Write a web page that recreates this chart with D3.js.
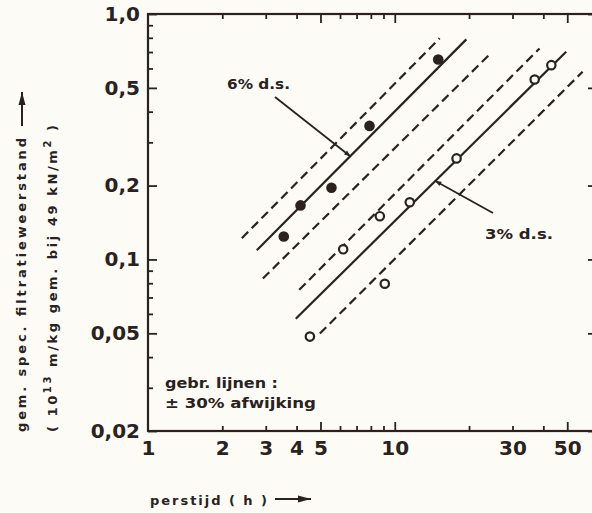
<!DOCTYPE html>
<html>
<head>
<meta charset="utf-8">
<script src="https://cdn.jsdelivr.net/npm/d3@7"></script>
<style>
  body { margin: 0; background: #fcfbf6; }
  svg { display: block; }
  text { font-family: "DejaVu Sans", sans-serif; font-weight: bold; fill: #2b221e; }
</style>
</head>
<body>
<svg id="chart"></svg>
<script>
// measured points, 6% d.s. (filled) and 3% d.s. (open)
const sixX = [3.55, 4.15, 5.54, 7.9, 15.0];
const sixY = [0.124, 0.166, 0.196, 0.35, 0.653];
const threeX = [4.53, 6.18, 8.7, 9.11, 11.5, 17.8, 36.9, 43.1];
const threeY = [0.0485, 0.110, 0.150, 0.0796, 0.171, 0.258, 0.541, 0.619];

// line end points (x, y)
const sixUpperX = [2.40, 15.2], sixUpperY = [0.122, 0.796];
const sixFitX = [2.76, 19.5], sixFitY = [0.109, 0.788];
const sixLowerX = [2.92, 24.6], sixLowerY = [0.0836, 0.695];
const threeUpperX = [4.10, 38.6], threeUpperY = [0.0752, 0.724];
const threeFitX = [3.97, 49.5], threeFitY = [0.0573, 0.702];
const threeLowerX = [4.97, 57.7], threeLowerY = [0.0499, 0.582];

// ticks
const xLabelTicks = [1, 2, 3, 4, 5, 10, 30, 50];
const xMajorTicks = [5, 10, 50];
const xMinorTicks = [2, 3, 4, 6, 7, 8, 9, 20, 30, 40];
const yLabelTicks = [1, 0.5, 0.2, 0.1, 0.05, 0.02];
const yLabels = ['1,0', '0,5', '0,2', '0,1', '0,05', '0,02'];
const yMinorTicks = [0.9, 0.8, 0.7, 0.6, 0.4, 0.3, 0.09, 0.08, 0.07, 0.06, 0.04, 0.03];

const W = 592, H = 513;
const ink = '#2b221e';
const bg = '#fcfbf6';
const m = { left: 148, right: 597, top: 14, bottom: 431 };

const svg = d3.select('#chart').attr('width', W).attr('height', H);
svg.append('rect').attr('width', W).attr('height', H).attr('fill', bg);

const x = d3.scaleLog().domain([1, 66]).range([m.left, m.right]);
const y = d3.scaleLog().domain([0.02, 1]).range([m.bottom, m.top]);

const allX = [1].concat(xMajorTicks, xMinorTicks);
const allY = yLabelTicks.concat(yMinorTicks);
const isMajorX = d => xMajorTicks.includes(d);
const isMajorY = d => yLabelTicks.includes(d);

function styleAxis(g, majorFn, attr, sign) {
  g.select('.domain').remove();
  g.selectAll('.tick line')
    .attr('stroke', ink)
    .attr('stroke-width', 1.8)
    .attr(attr, d => (d === 1 && attr === 'y2') ? 0 : sign * (majorFn(d) ? 9 : 5));
  g.selectAll('.tick text')
    .attr('font-size', 20)
    .attr('fill', ink)
    .attr('font-family', '"Liberation Sans", Arial, sans-serif')
    .attr('font-weight', 'bold');
}

// bottom
svg.append('g')
  .attr('transform', `translate(0,${m.bottom})`)
  .call(d3.axisBottom(x).tickValues(allX).tickSize(-5).tickPadding(10)
    .tickFormat(d => xLabelTicks.includes(d) ? d : ''))
  .call(g => styleAxis(g, isMajorX, 'y2', -1));

// top
svg.append('g')
  .attr('transform', `translate(0,${m.top})`)
  .call(d3.axisTop(x).tickValues(allX).tickSize(-5).tickFormat(''))
  .call(g => styleAxis(g, isMajorX, 'y2', 1));

// left
svg.append('g')
  .attr('transform', `translate(${m.left},0)`)
  .call(d3.axisLeft(y).tickValues(allY).tickSize(-5).tickPadding(8)
    .tickFormat(d => {
      const i = yLabelTicks.indexOf(d);
      return i >= 0 ? yLabels[i] : '';
    }))
  .call(g => styleAxis(g, isMajorY, 'x2', 1));

// right
svg.append('g')
  .attr('transform', `translate(${m.right},0)`)
  .call(d3.axisRight(y).tickValues(allY).tickSize(-5).tickFormat(''))
  .call(g => styleAxis(g, isMajorY, 'x2', -1));

// frame
svg.append('rect')
  .attr('x', m.left).attr('y', m.top)
  .attr('width', m.right - m.left).attr('height', m.bottom - m.top)
  .attr('fill', 'none').attr('stroke', ink).attr('stroke-width', 2.2);

// lines
const lines = [
  [sixUpperX, sixUpperY, true],
  [sixFitX, sixFitY, false],
  [sixLowerX, sixLowerY, true],
  [threeUpperX, threeUpperY, true],
  [threeFitX, threeFitY, false],
  [threeLowerX, threeLowerY, true]
];
const lineGen = d3.line().x(d => x(d[0])).y(d => y(d[1]));
svg.append('g').selectAll('path')
  .data(lines)
  .join('path')
  .attr('d', d => lineGen(d3.zip(d[0], d[1])))
  .attr('fill', 'none')
  .attr('stroke', ink)
  .attr('stroke-width', 2.2)
  .attr('stroke-dasharray', d => d[2] ? '9,5' : null);

// points
svg.append('g').selectAll('circle')
  .data(d3.zip(sixX, sixY))
  .join('circle')
  .attr('cx', d => x(d[0])).attr('cy', d => y(d[1]))
  .attr('r', 5.3).attr('fill', ink);

svg.append('g').selectAll('circle')
  .data(d3.zip(threeX, threeY))
  .join('circle')
  .attr('cx', d => x(d[0])).attr('cy', d => y(d[1]))
  .attr('r', 4.2).attr('fill', bg)
  .attr('stroke', ink).attr('stroke-width', 2.2);

// leader lines to the fitted lines
function onLine(xs, ys, xv) {
  const t = (Math.log(xv) - Math.log(xs[0])) / (Math.log(xs[1]) - Math.log(xs[0]));
  return [x(xv), y(Math.exp(Math.log(ys[0]) + t * (Math.log(ys[1]) - Math.log(ys[0]))))];
}
function leader(from, to) {
  svg.append('line')
    .attr('x1', from[0]).attr('y1', from[1])
    .attr('x2', to[0]).attr('y2', to[1])
    .attr('stroke', ink).attr('stroke-width', 1.8);
  const a = Math.atan2(to[1] - from[1], to[0] - from[0]);
  const s = 6;
  const p = [
    to,
    [to[0] - s * Math.cos(a) + 2.5 * Math.sin(a), to[1] - s * Math.sin(a) - 2.5 * Math.cos(a)],
    [to[0] - s * Math.cos(a) - 2.5 * Math.sin(a), to[1] - s * Math.sin(a) + 2.5 * Math.cos(a)]
  ];
  svg.append('path').attr('d', 'M' + p.join('L') + 'Z').attr('fill', ink);
}
leader([275, 97], onLine(sixFitX, sixFitY, 6.6));
leader([493, 213], onLine(threeFitX, threeFitY, 14.6));

svg.append('text').attr('x', 227).attr('y', 89)
  .attr('font-size', 14).attr('textLength', 63).attr('lengthAdjust', 'spacingAndGlyphs')
  .text('6% d.s.');
svg.append('text').attr('x', 485).attr('y', 239)
  .attr('font-size', 14).attr('textLength', 68).attr('lengthAdjust', 'spacingAndGlyphs')
  .text('3% d.s.');

// legend note
svg.append('text').attr('x', 165).attr('y', 388)
  .attr('font-size', 14).attr('textLength', 113).attr('lengthAdjust', 'spacingAndGlyphs')
  .text('gebr. lijnen :');
svg.append('text').attr('x', 165).attr('y', 408)
  .attr('font-size', 14).attr('textLength', 151).attr('lengthAdjust', 'spacingAndGlyphs')
  .text('± 30% afwijking');

// axis titles
function arrow(x1, y1, x2, y2) {
  svg.append('line')
    .attr('x1', x1).attr('y1', y1).attr('x2', x2).attr('y2', y2)
    .attr('stroke', ink).attr('stroke-width', 2);
  const a = Math.atan2(y2 - y1, x2 - x1);
  const s = 13;
  const p = [
    [x2, y2],
    [x2 - s * Math.cos(a) + 3.5 * Math.sin(a), y2 - s * Math.sin(a) - 3.5 * Math.cos(a)],
    [x2 - s * Math.cos(a) - 3.5 * Math.sin(a), y2 - s * Math.sin(a) + 3.5 * Math.cos(a)]
  ];
  svg.append('path').attr('d', 'M' + p.join('L') + 'Z').attr('fill', ink);
}

svg.append('text').attr('x', 150).attr('y', 505)
  .attr('font-size', 13).attr('textLength', 117).attr('lengthAdjust', 'spacing')
  .text('perstijd ( h )');
arrow(275, 499, 311, 499);

svg.append('text')
  .attr('transform', 'translate(26,432) rotate(-90)')
  .attr('font-size', 13).attr('textLength', 294).attr('lengthAdjust', 'spacing')
  .text('gem. spec. filtratieweerstand');
arrow(22, 126, 22, 92);

const t2 = svg.append('text')
  .attr('transform', 'translate(57,432) rotate(-90)')
  .attr('font-size', 13).attr('textLength', 307).attr('lengthAdjust', 'spacing');
t2.append('tspan').text('( 10');
t2.append('tspan').attr('dy', -6).attr('font-size', 10).text('13');
t2.append('tspan').attr('dy', 6).text(' m/kg gem. bij 49 kN/m');
t2.append('tspan').attr('dy', -6).attr('font-size', 10).text('2');
t2.append('tspan').attr('dy', 6).text(' )');
</script>
</body>
</html>
